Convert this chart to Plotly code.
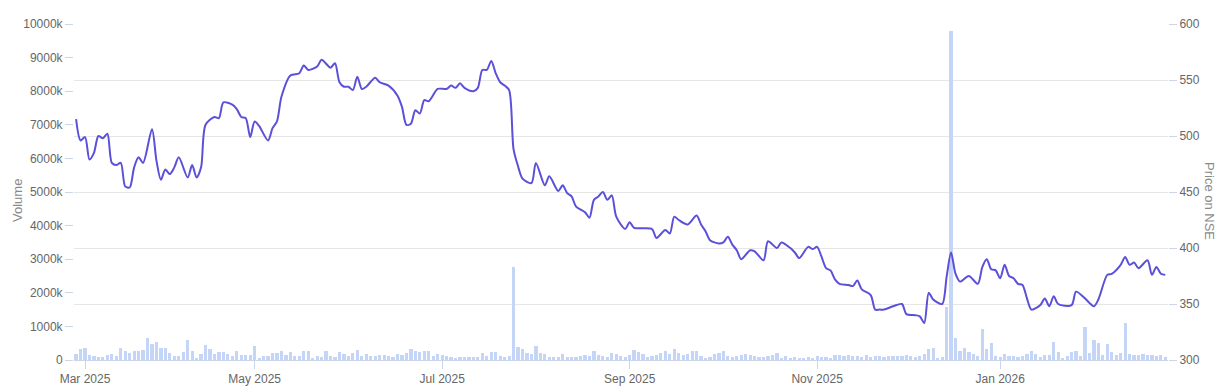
import pandas as pd
import plotly.graph_objects as go

# ---- trading calendar (NSE trading days) ----
holidays = ["2025-03-14", "2025-03-31", "2025-04-10", "2025-04-14", "2025-04-18",
            "2025-05-01", "2025-08-15", "2025-08-27", "2025-10-02", "2025-10-21",
            "2025-10-22", "2025-11-05", "2025-12-25", "2026-01-15", "2026-01-26"]
trading_days = pd.bdate_range("2025-02-27", "2026-02-24", freq="C", holidays=holidays)

# ---- volume per trading day (thousands) ----
volume_k = [
    180, 330, 370, 150, 120, 100, 90, 150, 170, 110, 350, 280, 210, 270, 280, 300, 645, 476, 525, 360,
    350, 210, 130, 130, 230,
    595, 280, 50, 180, 450, 330, 180, 230, 230, 180, 110, 280, 150, 150, 160, 410, 60, 110, 130, 210,
    200, 260, 150, 250, 110, 130, 260, 280, 70, 130, 80, 260, 130, 80, 230,
    180, 130, 200, 310, 130, 180, 130, 130, 150, 160, 130, 80, 180, 150, 200, 330, 280, 230, 260, 260,
    130, 180, 160, 130, 100, 60, 80, 80, 80, 80, 80, 200, 130, 230, 230, 130, 100, 130,
    2780,
    380, 330, 200, 180, 430, 210, 180, 100, 80, 100, 180, 80, 100, 100, 130, 160, 130, 280, 160, 130,
    80, 200, 180,
    130, 100, 160, 310, 230, 180, 100, 130, 160, 200, 280, 180, 330, 200, 160, 180, 280, 280, 130, 60,
    100, 180, 200, 280, 130, 100, 130, 160, 180, 160, 130, 80, 100, 130, 160, 200, 60, 130, 50, 80,
    50, 50, 80, 50, 110, 80, 100, 50, 160, 160, 130, 150, 110, 130, 100, 160, 80, 110, 130, 100,
    130, 110,
    110, 110, 160, 110, 80, 110, 180, 330, 350, 60, 80,
    1580, 9800, 645, 280, 360, 230, 180, 130, 920, 330, 505, 130, 80, 180, 110, 110, 100, 110, 180, 260,
    180, 80, 160, 150, 525, 230, 60, 130, 230, 270, 130, 970, 200, 600, 500, 160, 465, 230, 160, 220,
    1100, 180, 160, 150, 170, 150, 140, 110, 160, 80,
]

# ---- price on NSE (trading-day index, price) ----
price_idx = [0, 1, 2, 3, 4, 5, 6, 7, 8, 9, 10, 11, 12, 13, 14, 15, 17, 18, 19, 20, 21, 22, 23, 25, 26, 27,
             28, 29, 31, 32, 33, 35, 36, 37, 38, 39, 40, 41, 43, 44, 45, 46, 48, 50, 51, 52, 54, 55, 57, 58,
             59, 60, 61, 62, 63, 64, 65, 67, 68, 70, 72, 73, 74, 75, 76, 77, 78, 79, 81, 83, 84, 85, 86,
             87, 89, 90, 91, 92, 93, 94, 95, 96, 97, 98, 99, 100, 102, 103, 105, 106, 108, 109, 110, 111,
             112, 114, 115, 116, 117, 118, 119, 120, 121, 123, 124, 125, 129, 130, 132, 133, 134, 135,
             137, 139, 140, 141, 142, 144, 145, 146, 147, 148, 149, 151, 152, 154, 155, 157, 158, 160,
             161, 162, 164, 165, 166, 167, 168, 169, 170, 171, 173, 174, 175, 176, 178, 179, 180, 181,
             183, 185, 186, 188, 189, 190, 191, 192, 194, 195, 196, 197, 198, 200, 202, 203, 204, 205,
             206, 207, 208, 209, 210, 211, 212, 213, 214, 216, 217, 218, 219, 220, 223, 224, 226, 228,
             229, 231, 232, 234, 235, 236, 237, 238, 240, 241, 242, 243, 244]
price_val = [515, 496, 499, 479, 485, 500, 498, 502, 476, 474, 476, 455, 454, 472, 481, 476, 506, 478, 461,
             470, 466, 472, 481, 463, 474, 463, 472, 510, 517, 516, 530, 528, 524, 517, 516, 499, 513, 509,
             496, 507, 513, 535, 554, 556, 563, 559, 562, 568, 561, 565, 548, 544, 544, 541, 553, 542, 544,
             552, 548, 545, 536, 526, 510, 511, 523, 520, 532, 531, 542, 542, 545, 543, 547, 543, 540, 543,
             559, 559, 567, 556, 548, 545, 541, 488, 473, 462, 458, 476, 456, 464, 451, 456, 449, 446, 437,
             432, 427, 443, 446, 450, 443, 447, 428, 417, 423, 418, 417, 409, 416, 413, 428, 425, 421, 429,
             421, 415, 407, 404, 405, 410, 403, 398, 390, 398, 397, 389, 406, 400, 405, 400, 396, 391, 401,
             399, 401, 392, 382, 380, 372, 368, 367, 366, 371, 363, 358, 345, 345, 345, 348, 350, 341, 340,
             339, 333, 360, 354, 350, 374, 396, 377, 370, 375, 368, 383, 390, 381, 380, 373, 385, 375, 373,
             368, 367, 355, 345, 349, 355, 348, 357, 350, 349, 361, 355, 348, 354, 376, 377, 385, 392, 385,
             387, 382, 389, 376, 383, 377, 376]

# ---- axis ticks ----
vol_ticks = list(range(0, 10_000_001, 1_000_000))
vol_tick_labels = ["0", "1000k", "2000k", "3000k", "4000k", "5000k", "6000k", "7000k", "8000k", "9000k", "10000k"]
tick_months = ["2025-03", "2025-05", "2025-07", "2025-09", "2025-11", "2026-01"]

day_strings = [d.strftime("%Y-%m") for d in trading_days]
x_tickvals, x_ticktext = [], []
for m in tick_months:
    i = day_strings.index(m)
    x_tickvals.append(i)
    x_ticktext.append(pd.Timestamp(m + "-01").strftime("%b %Y"))

FONT = "Liberation Sans, Arial, sans-serif"
AXIS_C = "#ccd6eb"
LABEL_C = "#666666"

fig = go.Figure()
fig.add_trace(go.Bar(
    x=list(range(len(volume_k))), y=[v * 1000 for v in volume_k],
    marker=dict(color="#c4d5f8", line=dict(width=0)), width=0.72,
    name="Volume", yaxis="y", hoverinfo="skip"))
fig.add_trace(go.Scatter(
    x=price_idx, y=price_val, mode="lines",
    line=dict(color="#5b50d8", width=2, shape="spline", smoothing=0.8),
    name="Price", yaxis="y2"))

fig.update_layout(
    width=1229, height=392,
    margin=dict(l=74, r=61, t=24, b=32),
    paper_bgcolor="white", plot_bgcolor="white",
    showlegend=False, bargap=0,
    font=dict(family=FONT, size=12, color=LABEL_C),
    xaxis=dict(range=[-0.47, 244.6], showgrid=False, zeroline=False, automargin=False,
               tickmode="array", tickvals=x_tickvals, ticktext=x_ticktext,
               ticks="outside", ticklen=8, tickcolor=AXIS_C, showline=True, linecolor=AXIS_C,
               tickfont=dict(size=12, color=LABEL_C)),
    yaxis=dict(range=[0, 10_000_000], tickmode="array", tickvals=vol_ticks, ticktext=vol_tick_labels,
               showgrid=False, zeroline=False, ticks="outside", ticklen=8, tickcolor=AXIS_C,
               automargin=False, tickfont=dict(size=12, color=LABEL_C)),
    yaxis2=dict(range=[300, 600], dtick=50, tick0=300, overlaying="y", side="right",
                showgrid=True, gridcolor="#e6e6e6", zeroline=False, automargin=False,
                ticks="outside", ticklen=8, tickcolor=AXIS_C,
                tickfont=dict(size=12, color=LABEL_C)),
    annotations=[
        dict(text="Volume", xref="paper", yref="paper", x=(17 - 74) / 1094, y=(360 - 201) / 336,
             xanchor="center", yanchor="middle",
             textangle=-90, showarrow=False, font=dict(size=13, color="#8a8a8a", family=FONT)),
        dict(text="Price on NSE", xref="paper", yref="paper", x=(1210 - 74) / 1094, y=(360 - 201) / 336,
             xanchor="center", yanchor="middle",
             textangle=90, showarrow=False, font=dict(size=13, color="#8a8a8a", family=FONT)),
    ],
)

fig.write_html("out.html")
